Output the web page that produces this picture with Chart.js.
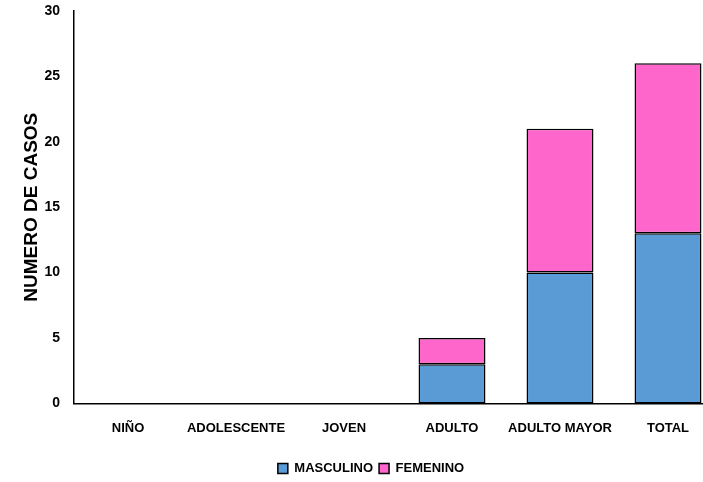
<!DOCTYPE html>
<html>
<head>
<meta charset="utf-8">
<script src="https://cdn.jsdelivr.net/npm/chart.js@4"></script>
<style>
  html, body { margin: 0; padding: 0; background: #fff; overflow: hidden; }
  .wrap { width: 722px; height: 482px; position: relative; }
</style>
</head>
<body>
<div class="wrap"><canvas id="chart-bar"></canvas></div>
<script>
// categories and values
const grupos = ['NIÑO', 'ADOLESCENTE', 'JOVEN', 'ADULTO', 'ADULTO MAYOR', 'TOTAL'];
const masculino = [0, 0, 0, 3, 10, 13];
const femenino = [0, 0, 0, 2, 11, 13];
const yTicks = [0, 5, 10, 15, 20, 25, 30];

const labelFont = { family: "'Liberation Sans Narrow', 'Liberation Sans', Arial, sans-serif", size: 13, weight: 'bold' };

const dataBar = {
    labels: grupos,
    datasets: [
        {
            label: 'MASCULINO',
            data: masculino,
            backgroundColor: '#5B9BD5',
            borderColor: '#000',
            borderWidth: 1.5,
            borderSkipped: false
        },
        {
            label: 'FEMENINO',
            data: femenino,
            backgroundColor: '#FF66CC',
            borderColor: '#000',
            borderWidth: 1.5,
            borderSkipped: false
        }
    ]
};

const configBar = {
    type: 'bar',
    data: dataBar,
    options: {
        responsive: true,
        maintainAspectRatio: false,
        animation: false,
        categoryPercentage: 0.62,
        barPercentage: 1,
        layout: { padding: { top: 0, left: 20, right: 0, bottom: -3 } },
        scales: {
            x: {
                stacked: true,
                afterFit: (scale) => { scale.height += 3; },
                grid: { display: false, drawTicks: false },
                border: { color: '#000', width: 1.5 },
                ticks: { color: '#000', font: labelFont, padding: 17, maxRotation: 0, autoSkip: false }
            },
            y: {
                stacked: true,
                min: 0,
                max: 30,
                afterBuildTicks: (axis) => { axis.ticks = yTicks.map(v => ({ value: v })); },
                // fix the axis box so the plot starts where the picture's does
                afterFit: (scale) => {
                    scale.width = 54;
                    scale.paddingTop = 11;
                    scale.paddingBottom = 7;
                },
                grid: { display: false, drawTicks: false },
                border: { color: '#000', width: 1.5 },
                ticks: { color: '#000', font: { ...labelFont, size: 14 }, padding: 14 },
                title: {
                    display: true,
                    text: 'NUMERO DE CASOS',
                    color: '#000',
                    font: { family: "'Liberation Sans', Arial, sans-serif", size: 19, weight: 'bold' },
                    padding: { top: 0, bottom: 0 }
                }
            }
        },
        plugins: {
            legend: {
                position: 'bottom',
                labels: {
                    color: '#000',
                    boxWidth: 10,
                    boxHeight: 10,
                    padding: 6,
                    font: labelFont
                }
            },
            tooltip: { enabled: false }
        }
    }
};

const chartBar = new Chart(document.getElementById('chart-bar'), configBar);
</script>
</body>
</html>
